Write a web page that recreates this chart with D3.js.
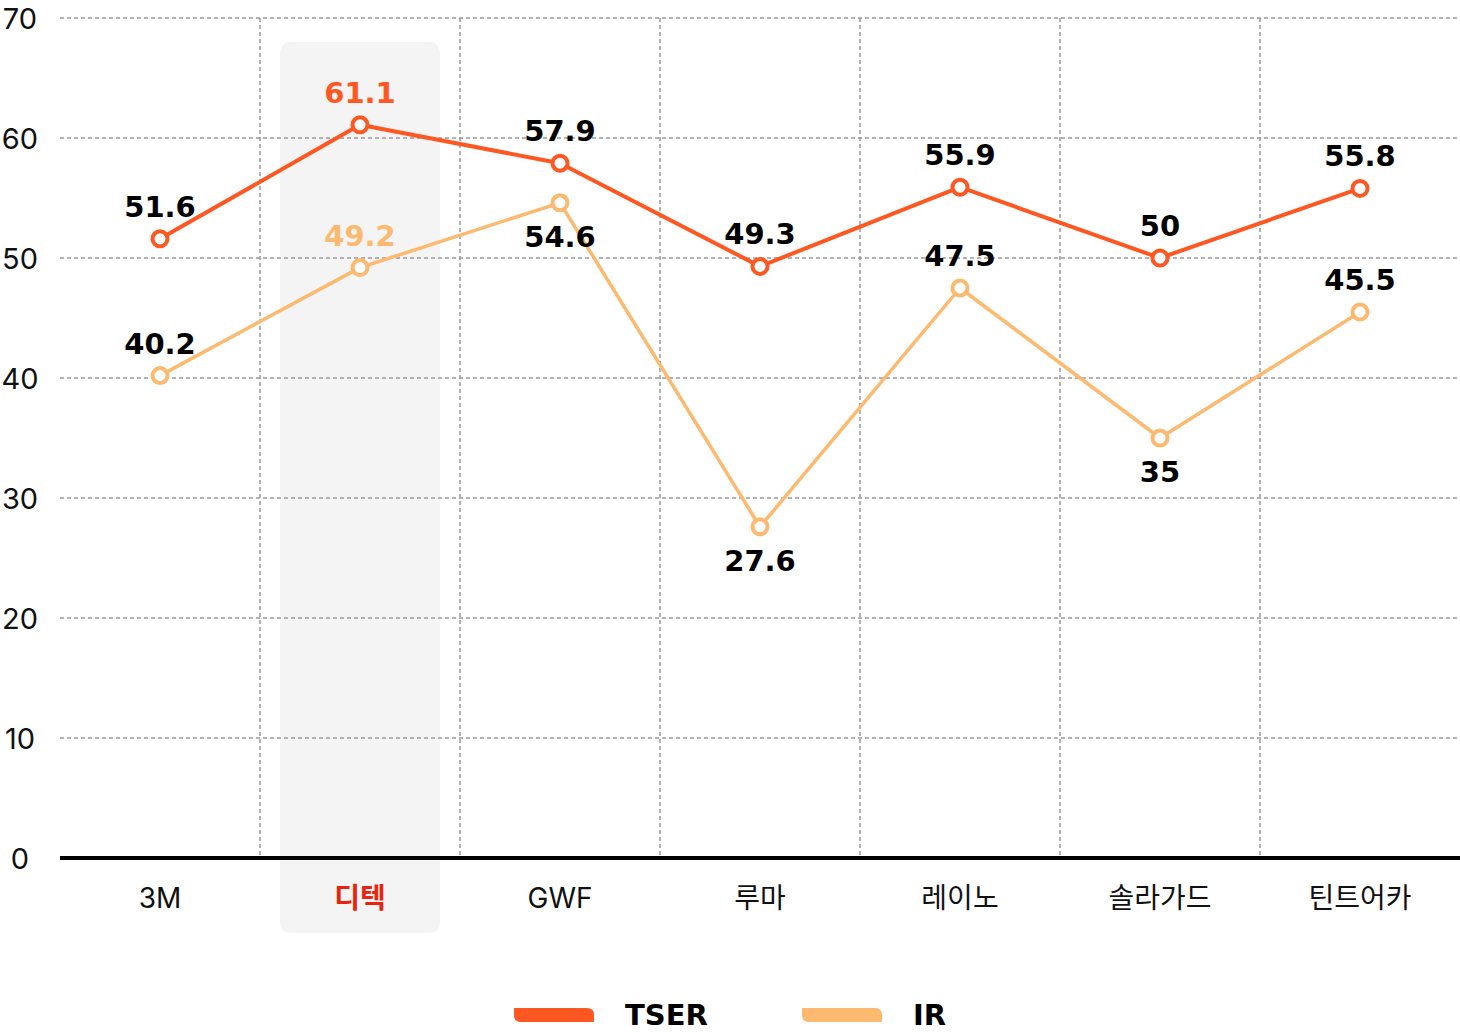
<!DOCTYPE html>
<html>
<head>
<meta charset="utf-8">
<script src="https://cdn.jsdelivr.net/npm/d3@7"></script>
<style>
  html, body { margin: 0; padding: 0; background: #fff; }
  svg { display: block; }
</style>
</head>
<body>
<svg id="chart" width="1460" height="1036"></svg>
<script>
// chart data
const categories = ["3M", "디텍", "GWF", "루마", "레이노", "솔라가드", "틴트어카"];
const tserValues = [51.6, 61.1, 57.9, 49.3, 55.9, 50, 55.8];
const irValues = [40.2, 49.2, 54.6, 27.6, 47.5, 35, 45.5];
const yTicks = [0, 10, 20, 30, 40, 50, 60, 70];
const highlight = "디텍";
// IR labels that sit under their point
const irLabelBelow = ["GWF", "루마", "솔라가드"];

const tserColor = "#FF5722",
    irColor = "#FDB96F",
    labelFont = "'DejaVu Sans', sans-serif",
    axisFont = "Inter, 'Noto Sans CJK KR', sans-serif";

const margin = {top: 18, left: 60, right: 0},
    width = 1460,
    plotBottom = 858;

const svg = d3.select("#chart");

const x = d3.scaleBand()
    .domain(categories)
    .range([margin.left, width - margin.right])
    .padding(0);

const y = d3.scaleLinear()
    .domain([0, 70])
    .range([plotBottom, margin.top]);

const cx = d => x(d) + x.bandwidth() / 2;

// highlighted category background
svg.append("rect")
    .attr("x", x(highlight) + 20)
    .attr("y", 42)
    .attr("width", x.bandwidth() - 40)
    .attr("height", 933 - 42)
    .attr("rx", 10)
    .attr("fill", "#F4F4F4");

// horizontal grid
svg.append("g")
  .selectAll("line")
  .data(yTicks.filter(t => t > 0))
  .enter().append("line")
    .attr("x1", margin.left)
    .attr("x2", width)
    .attr("y1", d => y(d))
    .attr("y2", d => y(d))
    .attr("stroke", "#999")
    .attr("stroke-width", 1.5)
    .attr("stroke-dasharray", "4,3");

// vertical grid between categories
svg.append("g")
  .selectAll("line")
  .data(categories.slice(1))
  .enter().append("line")
    .attr("x1", d => x(d))
    .attr("x2", d => x(d))
    .attr("y1", y(70))
    .attr("y2", y(0))
    .attr("stroke", "#999")
    .attr("stroke-width", 1.5)
    .attr("stroke-dasharray", "4,3");

// baseline
svg.append("line")
    .attr("x1", margin.left)
    .attr("x2", width)
    .attr("y1", y(0))
    .attr("y2", y(0))
    .attr("stroke", "#000")
    .attr("stroke-width", 4);

// y tick labels
svg.append("g")
  .selectAll("text")
  .data(yTicks)
  .enter().append("text")
    .attr("x", 20)
    .attr("y", d => y(d) + 11)
    .attr("text-anchor", "middle")
    .style("font-family", axisFont)
    .style("font-size", "29px")
    .style("fill", "#111")
    .text(d => d);

// category labels
svg.append("g")
  .selectAll("text")
  .data(categories)
  .enter().append("text")
    .attr("x", d => cx(d))
    .attr("y", 908)
    .attr("text-anchor", "middle")
    .style("font-family", axisFont)
    .style("font-size", "28px")
    .style("font-weight", d => d == highlight ? 700 : 400)
    .style("fill", d => d == highlight ? "#E8230E" : "#111")
    .text(d => d);

const series = [
  {name: "TSER", values: tserValues, color: tserColor, width: 4},
  {name: "IR", values: irValues, color: irColor, width: 3.5}
];

const line = d3.line()
    .x(d => cx(d.cat))
    .y(d => y(d.value));

// IR first so TSER draws on top
series.slice().reverse().forEach(s => {
  const pts = categories.map((c, i) => ({cat: c, value: s.values[i]}));
  const g = svg.append("g");

  g.append("path")
      .datum(pts)
      .attr("d", line)
      .attr("fill", "none")
      .attr("stroke", s.color)
      .attr("stroke-width", s.width)
      .attr("stroke-linejoin", "round");

  g.selectAll("circle")
      .data(pts)
    .enter().append("circle")
      .attr("cx", d => cx(d.cat))
      .attr("cy", d => y(d.value))
      .attr("r", 7.5)
      .attr("fill", "#fff")
      .attr("stroke", s.color)
      .attr("stroke-width", 4);
});

// value labels
series.forEach(s => {
  svg.append("g")
    .selectAll("text")
    .data(categories.map((c, i) => ({cat: c, value: s.values[i]})))
    .enter().append("text")
      .attr("x", d => cx(d.cat))
      .attr("y", d => {
        const below = s.name == "IR" && irLabelBelow.includes(d.cat);
        return y(d.value) + (below ? 44 : -22);
      })
      .attr("text-anchor", "middle")
      .style("font-family", labelFont)
      .style("font-size", "29px")
      .style("font-weight", 700)
      .style("fill", d => d.cat == highlight ? s.color : "#000")
      .text(d => d.value);
});

// legend
const swatch = (x0, y0, w, h, r) =>
  "M" + x0 + "," + y0 +
  "H" + (x0 + w - r) +
  "Q" + (x0 + w) + "," + y0 + " " + (x0 + w) + "," + (y0 + r) +
  "V" + (y0 + h) +
  "H" + (x0 + r) +
  "Q" + x0 + "," + (y0 + h) + " " + x0 + "," + (y0 + h - r) +
  "Z";

const legend = svg.append("g")
  .selectAll("g")
  .data(series)
  .enter().append("g")
    .attr("transform", (d, i) => "translate(" + (514 + i * 288) + ",0)");

legend.append("path")
    .attr("d", swatch(0, 1008, 80, 14, 7))
    .attr("fill", d => d.color);

legend.append("text")
    .attr("x", 111)
    .attr("y", 1025)
    .style("font-family", labelFont)
    .style("font-size", "29px")
    .style("font-weight", 700)
    .style("fill", "#000")
    .text(d => d.name);
</script>
</body>
</html>
